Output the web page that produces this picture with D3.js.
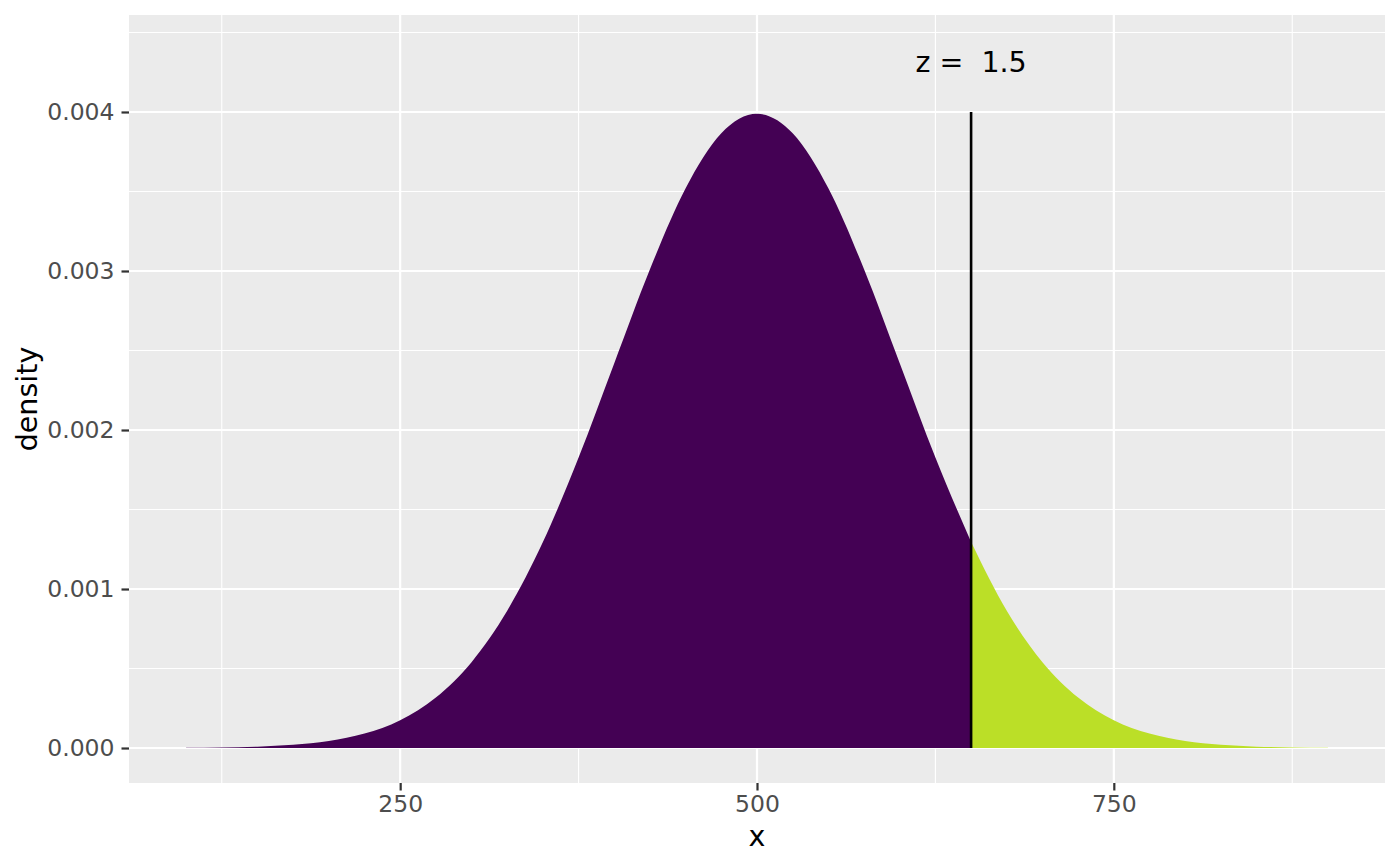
<!DOCTYPE html>
<html>
<head>
<meta charset="utf-8">
<script src="https://cdn.jsdelivr.net/npm/d3@7"></script>
<style>
  html, body { margin: 0; padding: 0; background: #ffffff; }
  svg { display: block; font-family: "DejaVu Sans", sans-serif; }
</style>
</head>
<body>
<svg id="chart" width="1400" height="866"></svg>
<script>
// ---- data ----
const xValues = [100,125,150,175,200,225,250,275,300,325,350,375,400,425,450,475,500,
                 525,550,575,600,625,650,675,700,725,750,775,800,825,850,875,900];
const densityValues = [0.00000134,0.00000353,0.00000873,0.0000203,0.0000443,0.0000909,0.000175,
                 0.000317,0.000540,0.000863,0.001295,0.001827,0.002420,0.003011,0.003521,0.003867,0.003989,
                 0.003867,0.003521,0.003011,0.002420,0.001827,0.001295,0.000863,0.000540,0.000317,0.000175,
                 0.0000909,0.0000443,0.0000203,0.00000873,0.00000353,0.00000134];
const cutoff = 650;
const cutoffLineTop = 0.004;
const labelText = "z =  1.5";
const labelY = 0.00432;
const xTicks = [250, 500, 750];
const xMinorTicks = [125, 375, 625, 875];
const yTicks = [0, 0.001, 0.002, 0.003, 0.004];
const yMinorTicks = [0.0005, 0.0015, 0.0025, 0.0035, 0.0045];
const xDomain = [60, 940];
const yDomain = [-0.00022, 0.00461];
const colorBelow = "#440154";
const colorAbove = "#BBDF27";

// ---- layout ----
const panel = {left: 129, right: 1385, top: 15, bottom: 783};
const svg = d3.select("#chart");

const x = d3.scaleLinear().domain(xDomain).range([panel.left, panel.right]);
const y = d3.scaleLinear().domain(yDomain).range([panel.bottom, panel.top]);

// panel background
svg.append("rect")
  .attr("x", panel.left).attr("y", panel.top)
  .attr("width", panel.right - panel.left).attr("height", panel.bottom - panel.top)
  .attr("fill", "#EBEBEB");

// grid lines
const grid = svg.append("g");
grid.selectAll(".xminor").data(xMinorTicks).join("line")
  .attr("x1", d => x(d)).attr("x2", d => x(d))
  .attr("y1", panel.top).attr("y2", panel.bottom)
  .attr("stroke", "#fff").attr("stroke-width", 1.1);
grid.selectAll(".yminor").data(yMinorTicks).join("line")
  .attr("y1", d => y(d)).attr("y2", d => y(d))
  .attr("x1", panel.left).attr("x2", panel.right)
  .attr("stroke", "#fff").attr("stroke-width", 1.1);
grid.selectAll(".xmajor").data(xTicks).join("line")
  .attr("x1", d => x(d)).attr("x2", d => x(d))
  .attr("y1", panel.top).attr("y2", panel.bottom)
  .attr("stroke", "#fff").attr("stroke-width", 2.2);
grid.selectAll(".ymajor").data(yTicks).join("line")
  .attr("y1", d => y(d)).attr("y2", d => y(d))
  .attr("x1", panel.left).attr("x2", panel.right)
  .attr("stroke", "#fff").attr("stroke-width", 2.2);

// data points
const pts = xValues.map((v, i) => ({x: v, y: densityValues[i]}));
const below = pts.filter(d => d.x <= cutoff);
const above = pts.filter(d => d.x >= cutoff);

const area = d3.area()
  .x(d => x(d.x))
  .y0(y(0))
  .y1(d => y(d.y))
  .curve(d3.curveMonotoneX);

svg.append("path").datum(below).attr("d", area).attr("fill", colorBelow);
svg.append("path").datum(above).attr("d", area).attr("fill", colorAbove);

// cutoff line
svg.append("line")
  .attr("x1", x(cutoff)).attr("x2", x(cutoff))
  .attr("y1", y(0)).attr("y2", y(cutoffLineTop))
  .attr("stroke", "#000").attr("stroke-width", 2.6);

// annotation
svg.append("text")
  .attr("x", x(cutoff)).attr("y", y(labelY))
  .attr("dy", "0.37em")
  .attr("text-anchor", "middle")
  .attr("font-size", 28.5)
  .attr("fill", "#000")
  .style("white-space", "pre")
  .attr("xml:space", "preserve")
  .text(labelText);

// axes
const xAxis = d3.axisBottom(x).tickValues(xTicks).tickSize(7.5).tickPadding(5).tickFormat(d3.format("d"));
const gx = svg.append("g").attr("transform", `translate(0,${panel.bottom})`).call(xAxis);
gx.select(".domain").remove();
gx.selectAll(".tick line").attr("stroke", "#333").attr("stroke-width", 2.2);
gx.selectAll(".tick text").attr("fill", "#4D4D4D").attr("font-size", 23.5)
  .attr("font-family", "DejaVu Sans");

const yAxis = d3.axisLeft(y).tickValues(yTicks).tickSize(7.5).tickPadding(7).tickFormat(d3.format(".3f"));
const gy = svg.append("g").attr("transform", `translate(${panel.left},0)`).call(yAxis);
gy.select(".domain").remove();
gy.selectAll(".tick line").attr("stroke", "#333").attr("stroke-width", 2.2);
gy.selectAll(".tick text").attr("fill", "#4D4D4D").attr("font-size", 23.5)
  .attr("font-family", "DejaVu Sans");

// axis titles
svg.append("text")
  .attr("x", (panel.left + panel.right) / 2).attr("y", 846)
  .attr("text-anchor", "middle").attr("font-size", 28.5).attr("fill", "#000")
  .text("x");
svg.append("text")
  .attr("transform", `translate(36.5,${(panel.top + panel.bottom) / 2}) rotate(-90)`)
  .attr("text-anchor", "middle").attr("font-size", 28.5).attr("fill", "#000")
  .text("density");
</script>
</body>
</html>
